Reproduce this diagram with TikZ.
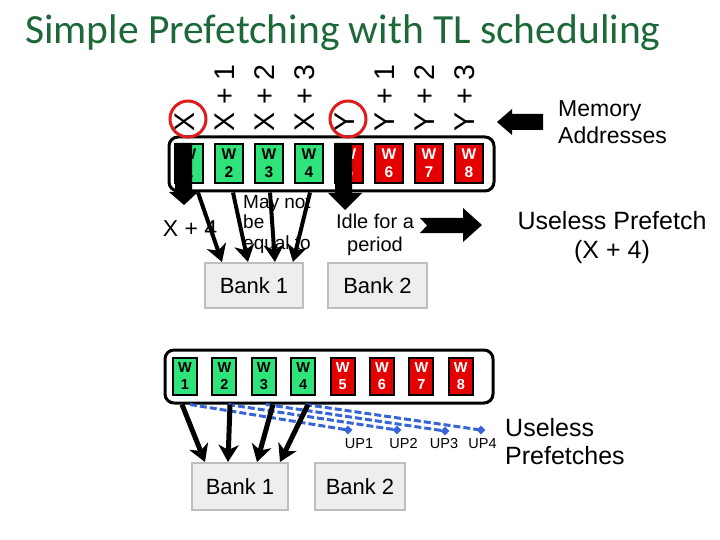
\documentclass[tikz,border=0pt]{standalone}
\usepackage{fontspec}
\setmainfont{Liberation Sans}
\newfontfamily\titlefont{Carlito}
\usetikzlibrary{arrows.meta,shapes.geometric}
\definecolor{titlegreen}{RGB}{28,104,56}
\definecolor{cellgreen}{RGB}{46,228,122}
\definecolor{cellred}{RGB}{228,0,0}
\definecolor{circred}{RGB}{222,30,30}
\definecolor{bankfill}{RGB}{238,238,238}
\definecolor{bankline}{RGB}{190,190,190}
\definecolor{upblue}{RGB}{55,100,215}
\begin{document}
\begin{tikzpicture}[x=1pt,y=-1pt,
  tcell/.style={draw=black,line width=2pt,inner sep=0pt,align=center,minimum width=28pt,minimum height=39pt,font=\bfseries\fontsize{15.5}{18}\selectfont},
  bcell/.style={draw=black,line width=2pt,inner sep=0pt,align=center,minimum width=24pt,minimum height=37pt,font=\bfseries\fontsize{14.5}{17}\selectfont},
  gcell/.style={fill=cellgreen,text=black},
  rcell/.style={fill=cellred,text=white},
  wordrow/.style={draw=black,line width=3pt,rounded corners=9pt,inner sep=0pt},
  addr/.style={rotate=90,anchor=west,inner sep=0pt,font=\fontsize{28.5}{30}\selectfont},
  ring/.style={circle,draw=circred,line width=3pt,minimum size=36pt,inner sep=0pt},
  bankbox/.style={draw=bankline,fill=bankfill,line width=2pt,inner sep=0pt,font=\fontsize{22}{24}\selectfont},
  conn/.style={line width=4pt,-{Stealth[length=17pt,width=20pt,inset=5pt]}},
  bconn/.style={line width=5pt,-{Stealth[length=17pt,width=20pt,inset=5pt]}},
  upline/.style={draw=upblue,line width=3pt,dash pattern=on 7pt off 3pt},
  updot/.style={diamond,fill=upblue,inner sep=0pt,minimum size=9pt},
  uplabel/.style={font=\fontsize{14.5}{16}\selectfont}
]
\useasboundingbox (0,0) rectangle (720,540);

% title
\node[anchor=base west,inner sep=0pt,text=titlegreen,font=\titlefont\fontsize{41.5}{45}\selectfont] (title) at (25,44) {Simple Prefetching with TL scheduling};

% top word row
\node[wordrow,minimum width=325pt,minimum height=54pt] (tbox) at (331.5,164) {};
\foreach \i in {1,...,4} \node[tcell,gcell] (tw\i) at ({189+40*(\i-1)},163.5) {W\\\i};
\foreach \i in {5,...,8} \node[tcell,rcell] (tw\i) at ({189+40*(\i-1)},163.5) {W\\\i};

% address labels
\foreach \i/\t in {1/X,2/X + 1,3/X + 2,4/X + 3,5/Y,6/Y + 1,7/Y + 2,8/Y + 3}
  \node[addr] (ad\i) at ({185+40*(\i-1)},132) {\t};
\node[ring] (ringx) at (188,119) {};
\node[ring] (ringy) at (348,119) {};

% memory addresses arrow and label
\fill (497,122) -- (512,109) -- (512,114) -- (543,114) -- (543,130) -- (512,130) -- (512,135) -- cycle;
\node[anchor=west,align=left,inner sep=0pt,font=\fontsize{23}{27}\selectfont] (mem) at (558,122) {Memory\\Addresses};

% block arrows down from W1 and W5
\fill (175,143) -- (192,143) -- (192,192) -- (198,192) -- (184,205) -- (169,192) -- (175,192) -- cycle;
\fill (335,143) -- (352,143) -- (352,193) -- (362,193) -- (345,210) -- (328,193) -- (335,193) -- cycle;

% texts in the middle
\node[inner sep=0pt,font=\fontsize{23}{27}\selectfont] (xfour) at (190,229) {X + 4};
\node[anchor=north west,align=left,inner sep=0pt,font=\fontsize{19}{20.5}\selectfont] (maynot) at (243,195) {May not\\be\\equal to};
\node[align=center,inner sep=0pt,font=\fontsize{20}{23}\selectfont] (idle) at (375,235) {Idle for a\\period};
\fill (420,218) -- (463,218) -- (463,208) -- (482,225) -- (463,242) -- (463,233) -- (420,233) -- (427,225.5) -- cycle;
\node[align=center,inner sep=0pt,font=\fontsize{25}{29}\selectfont] (uselessa) at (612,238) {Useless Prefetch\\(X + 4)};

% top banks
\node[bankbox,minimum width=98pt,minimum height=45pt] (tbank1) at (254,285.5) {Bank 1};
\node[bankbox,minimum width=99pt,minimum height=45pt] (tbank2) at (377.5,285.5) {Bank 2};

% top connectors
\draw[conn] ([xshift=-133.5pt]tbox.south) -- ([xshift=-32pt]tbank1.north);
\draw[conn] ([xshift=-98.5pt]tbox.south) -- ([xshift=-6pt]tbank1.north);
\draw[conn] ([xshift=-61.5pt]tbox.south) -- ([xshift=21pt]tbank1.north);
\draw[conn] ([xshift=-21.5pt]tbox.south) -- ([xshift=39pt]tbank1.north);

% bottom word row
\node[wordrow,minimum width=328pt,minimum height=53pt] (bbox) at (329,376.5) {};
\foreach \i in {1,...,4} \node[bcell,gcell] (bw\i) at ({185+39.4*(\i-1)},376.5) {W\\\i};
\foreach \i in {5,...,8} \node[bcell,rcell] (bw\i) at ({185+39.4*(\i-1)},376.5) {W\\\i};

% bottom banks
\node[bankbox,minimum width=96pt,minimum height=47pt] (bbank1) at (240,486.5) {Bank 1};
\node[bankbox,minimum width=90pt,minimum height=47pt] (bbank2) at (360,486.5) {Bank 2};

% useless prefetch dashed lines
\node[updot] (up1) at (348,430) {};
\node[updot] (up2) at (397,430) {};
\node[updot] (up3) at (445,431) {};
\node[updot] (up4) at (481,430) {};
\draw[upline] ([xshift=-139pt]bbox.south) -- (up1.center);
\draw[upline] ([xshift=-101pt]bbox.south) -- (up2.center);
\draw[upline] ([xshift=-63pt]bbox.south) -- (up3.center);
\draw[upline] ([xshift=-24pt]bbox.south) -- (up4.center);
\node[uplabel] (lup1) at (359,444) {UP1};
\node[uplabel] (lup2) at (403.5,444) {UP2};
\node[uplabel] (lup3) at (444,444) {UP3};
\node[uplabel] (lup4) at (482.5,444) {UP4};

% bottom connectors
\draw[bconn] ([xshift=-147pt]bbox.south) -- ([xshift=-35pt]bbank1.north);
\draw[bconn] ([xshift=-99pt]bbox.south) -- ([xshift=-12pt]bbank1.north);
\draw[bconn] ([xshift=-56pt]bbox.south) -- ([xshift=17pt]bbank1.north);
\draw[bconn] ([xshift=-21pt]bbox.south) -- ([xshift=40pt]bbank1.north);

\node[anchor=west,align=left,inner sep=0pt,font=\fontsize{25}{28}\selectfont] (uselessb) at (505,442) {Useless\\Prefetches};
\end{tikzpicture}
\end{document}
